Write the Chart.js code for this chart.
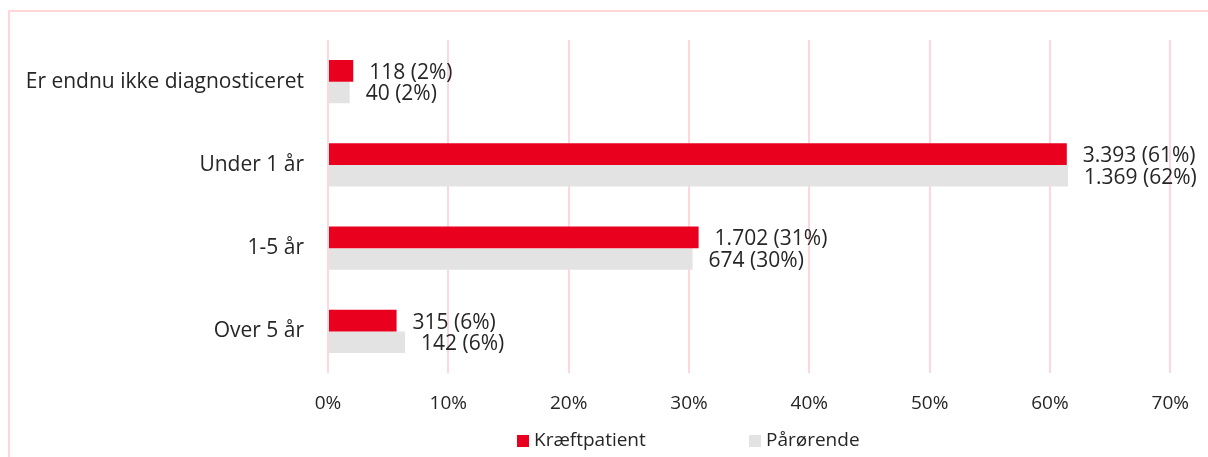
<!DOCTYPE html>
<html>
<head>
<meta charset="utf-8">
<script src="https://cdn.jsdelivr.net/npm/chart.js@4/dist/chart.umd.min.js"></script>
<style>
  body { margin: 0; background: #fff; }
  #wrap { position: relative; width: 1208px; height: 457px; }
  #frame { position: absolute; left: 8px; top: 10px; right: 0; bottom: 0;
           border-left: 2px solid #ffd7da; border-top: 2px solid #ffd7da; pointer-events: none; }
</style>
</head>
<body>
<div id="wrap">
  <canvas id="chart" width="1208" height="457"></canvas>
  <div id="frame"></div>
</div>
<script>
// data
const categories = ['Er endnu ikke diagnosticeret', 'Under 1 år', '1-5 år', 'Over 5 år'];
const seriesNames = ['Kræftpatient', 'Pårørende'];
const patientPct = [2.1, 61.4, 30.8, 5.7];
const relativePct = [1.8, 61.5, 30.3, 6.4];
const patientLabels = ['118 (2%)', '3.393 (61%)', '1.702 (31%)', '315 (6%)'];
const relativeLabels = ['40 (2%)', '1.369 (62%)', '674 (30%)', '142 (6%)'];
const xTicks = [0, 10, 20, 30, 40, 50, 60, 70];

const RED = '#e9001e';
const GREY = '#e3e3e3';
const TEXT = '#262626';
const FONT = "'Open Sans', sans-serif";

// labels at the end of each bar
const barLabels = {
  id: 'barLabels',
  afterDatasetsDraw(chart) {
    const ctx = chart.ctx;
    ctx.save();
    ctx.font = '21px ' + FONT;
    ctx.fillStyle = TEXT;
    ctx.textBaseline = 'middle';
    ctx.textAlign = 'left';
    chart.data.datasets.forEach((ds, i) => {
      chart.getDatasetMeta(i).data.forEach((bar, j) => {
        ctx.fillText(ds.valueLabels[j], bar.x + 16, bar.y + 2);
      });
    });
    ctx.restore();
  }
};

// simple legend under the axis
const bottomLegend = {
  id: 'bottomLegend',
  afterDraw(chart) {
    const ctx = chart.ctx;
    const starts = [517, 749];
    ctx.save();
    ctx.font = '19px ' + FONT;
    ctx.textBaseline = 'middle';
    chart.data.datasets.forEach((ds, i) => {
      ctx.fillStyle = ds.backgroundColor;
      ctx.fillRect(starts[i], 435, 12, 12);
      ctx.fillStyle = TEXT;
      ctx.fillText(ds.label, starts[i] + 17, 441);
    });
    ctx.restore();
  }
};

new Chart(document.getElementById('chart'), {
  type: 'bar',
  data: {
    labels: categories,
    datasets: [
      { label: seriesNames[0], data: patientPct, valueLabels: patientLabels,
        backgroundColor: RED, barPercentage: 1, categoryPercentage: 0.52 },
      { label: seriesNames[1], data: relativePct, valueLabels: relativeLabels,
        backgroundColor: GREY, barPercentage: 1, categoryPercentage: 0.52 }
    ]
  },
  options: {
    indexAxis: 'y',
    responsive: false,
    animation: false,
    layout: { padding: { top: 40, right: 36, bottom: 40, left: 0 } },
    plugins: { legend: { display: false }, tooltip: { enabled: false } },
    scales: {
      x: {
        min: 0, max: 70,
        afterBuildTicks(s) { s.ticks = xTicks.map(v => ({ value: v })); },
        afterFit(s) { s.height = 44; },
        grid: { color: '#ffd6d9', lineWidth: 2, drawTicks: false },
        border: { display: false },
        ticks: { color: TEXT, padding: 19, font: { family: FONT, size: 19 },
                 callback: v => v + '%' }
      },
      y: {
        afterFit(s) { s.width = 328; },
        grid: { display: false, drawTicks: false },
        border: { display: false },
        ticks: { color: TEXT, padding: 24, font: { family: FONT, size: 21 } }
      }
    }
  },
  plugins: [barLabels, bottomLegend]
});
</script>
</body>
</html>
